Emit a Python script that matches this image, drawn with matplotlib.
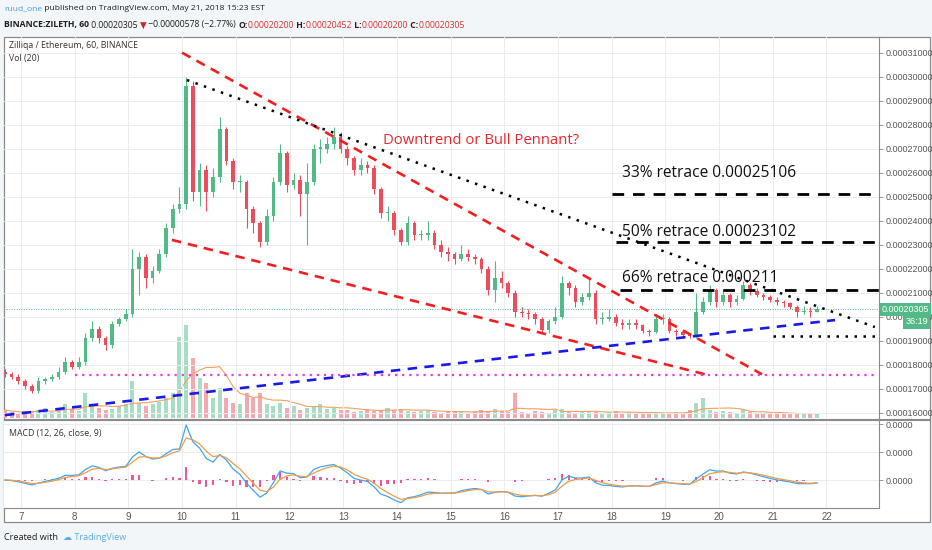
import numpy as np
import pandas as pd
import matplotlib
matplotlib.use("Agg")
from matplotlib import pyplot as plt
from matplotlib.patches import Rectangle
from matplotlib.lines import Line2D

plt.rcParams['font.family'] = ['Open Sans', 'DejaVu Sans']

# 3-hour candles, prices in units of 1e-5 ETH
start_day = 6.7
candle_step = 0.125
first_open = 17.7
closes = [17.6, 17.5, 17.3, 17.1, 16.9, 17.3, 17.4, 17.5, 17.7, 18.1,
          17.9, 18.1, 19.1, 19.5, 19.1, 18.8, 19.7, 19.9, 20.1, 22.0,
          22.5, 21.6, 21.9, 22.6, 23.7, 24.5, 24.7, 29.6, 25.2, 26.1,
          25.2, 25.8, 27.8, 26.5, 25.6, 25.6, 24.5, 23.9, 23.1, 24.2,
          25.6, 26.8, 25.5, 25.7, 25.1, 25.6, 27.0, 27.0, 27.2, 27.5,
          27.0, 26.6, 26.1, 26.3, 26.2, 25.3, 24.3, 24.3, 23.6, 23.1,
          23.9, 23.4, 23.4, 23.5, 23.0, 22.7, 22.6, 22.4, 22.6, 22.5,
          22.4, 22.0, 21.1, 21.6, 21.4, 21.0, 20.2, 20.15, 20.1, 19.9,
          19.45, 19.8, 20.0, 21.4, 21.2, 20.6, 20.8, 21.0, 19.9, 19.9,
          20.0, 19.75, 19.65, 19.75, 19.65, 19.4, 19.35, 19.9, 19.9, 19.4,
          19.35, 19.25, 19.2, 20.2, 20.6, 21.1, 20.6, 20.9, 20.6, 20.75,
          21.3, 21.05, 20.9, 20.8, 20.7, 20.6, 20.55, 20.4, 20.2, 20.25,
          20.2, 20.305]
highs = [17.8, 17.7, 17.6, 17.4, 17.2, 17.5, 17.5, 17.6, 17.9, 18.3,
         18.2, 18.3, 19.3, 19.8, 19.6, 19.2, 19.8, 20.0, 20.3, 22.8,
         22.7, 22.6, 22.1, 22.8, 23.9, 24.7, 25.4, 30.0, 29.8, 26.4,
         26.3, 26.2, 28.3, 27.9, 26.6, 25.9, 25.7, 24.6, 24.0, 24.5,
         25.8, 27.2, 26.9, 26.0, 25.9, 26.4, 27.2, 27.4, 27.5, 27.9,
         27.7, 27.1, 26.7, 26.6, 26.5, 26.3, 25.4, 24.6, 24.4, 23.7,
         24.2, 24.0, 23.6, 24.0, 23.6, 23.2, 22.9, 22.7, 23.0, 22.8,
         22.6, 22.5, 22.1, 22.3, 21.9, 21.5, 21.1, 20.4, 20.3, 20.2,
         20.0, 19.9, 20.4, 21.7, 21.5, 21.3, 21.0, 21.6, 21.1, 20.2,
         20.3, 20.1, 19.9, 19.9, 19.9, 19.7, 19.5, 20.1, 20.1, 20.0,
         19.5, 19.4, 19.3, 21.0, 20.8, 21.3, 21.2, 21.1, 21.0, 20.9,
         21.5, 21.4, 21.2, 21.0, 20.9, 20.8, 20.7, 20.6, 20.5, 20.45,
         20.4, 20.45]
lows = [17.5, 17.4, 17.2, 17.0, 16.8, 16.8, 17.2, 17.3, 17.4, 17.6,
        17.8, 17.8, 18.0, 19.0, 18.9, 18.6, 18.7, 19.6, 19.8, 20.0,
        20.9, 21.2, 21.4, 21.8, 22.5, 23.5, 24.3, 24.5, 24.8, 24.6,
        24.4, 25.0, 25.6, 26.3, 25.3, 25.2, 23.7, 23.5, 22.9, 23.0,
        24.0, 25.5, 25.2, 25.3, 24.2, 23.0, 25.5, 26.4, 26.8, 27.0,
        26.8, 26.3, 25.9, 25.9, 26.0, 25.1, 24.1, 24.0, 23.4, 23.0,
        23.0, 23.2, 23.2, 23.2, 22.8, 22.5, 22.3, 22.2, 22.3, 22.3,
        22.2, 21.8, 20.9, 20.6, 21.2, 20.8, 20.0, 20.0, 19.9, 19.7,
        19.3, 19.3, 19.7, 19.9, 20.9, 20.4, 20.5, 20.7, 19.7, 19.7,
        19.8, 19.6, 19.5, 19.5, 19.5, 19.3, 19.2, 19.3, 19.7, 19.3,
        19.2, 19.1, 19.1, 19.1, 20.1, 20.5, 20.4, 20.5, 20.4, 20.5,
        20.7, 20.9, 20.8, 20.7, 20.6, 20.5, 20.4, 20.3, 20.0, 20.1,
        20.0, 20.2]
volumes = [8, 6, 5, 6, 7, 8, 10, 6, 8, 14,
           9, 7, 25, 12, 10, 8, 9, 12, 14, 37,
           15, 12, 14, 16, 20, 25, 81, 93, 60, 40,
           35, 20, 30, 20, 15, 14, 25, 20, 25, 14,
           12, 15, 10, 12, 8, 10, 12, 14, 9, 10,
           8, 8, 6, 7, 9, 7, 8, 10, 8, 9,
           7, 6, 7, 8, 6, 5, 6, 7, 6, 5,
           7, 8, 6, 9, 7, 6, 25, 6, 5, 7,
           6, 5, 8, 9, 6, 5, 7, 6, 6, 5,
           6, 7, 5, 6, 5, 4, 5, 6, 5, 5,
           6, 5, 8, 15, 20, 8, 6, 7, 6, 5,
           9, 6, 5, 5, 4, 5, 4, 5, 4, 4,
           5, 4]
last_price = 20.305

day_ticks = list(range(7, 23))
price_ticks = list(range(16, 32))

# hand drawn lines (day of May, price 1e-5)
red_upper_days = [10.0, 20.8]
red_upper_prices = [31.0, 17.6]
red_lower_days = [9.81, 19.83]
red_lower_prices = [23.2, 17.55]
dotted_days = [10.09, 22.9]
dotted_prices = [29.86, 19.57]
blue_days = [6.7, 22.16]
blue_prices = [15.9, 19.86]
magenta_days = [8.0, 22.9]
magenta_price = 17.57
support_days = [21.0, 22.9]
support_price = 19.2
retrace_starts = [18.0, 18.08, 18.15]
retrace_levels = [25.106, 23.102, 21.1]
retrace_labels = ['33% retrace 0.00025106', '50% retrace 0.00023102', '66% retrace 0.000211']
retrace_label_prices = [26.0, 23.53, 21.61]

W, H = 932, 550
green, red = '#53b987', '#eb4d5c'
xmin, xmax = 6.683, 22.978

fig = plt.figure(figsize=(W / 100, H / 100), dpi=100, facecolor='#f3f6f8')


def fx(x):
    return x / W


def fy(y):
    return 1 - y / H


fig.add_artist(Rectangle((fx(4), fy(522)), 926 / W, 485 / H, transform=fig.transFigure,
                         fc='white', ec='#8a8a8a', lw=0.9, zorder=-1))

# ---- main pane
ax = fig.add_axes([fx(4), fy(418), 875 / W, 381 / H])
ax_vol = ax.twinx()
ax.set_zorder(ax_vol.get_zorder() + 1)
ax.patch.set_visible(False)

n = len(closes)
days = start_day + candle_step * np.arange(n)
c = np.array(closes)
o = np.array([first_open] + closes[:-1])
up = c >= o
cols = np.where(up, green, red)

vol_cols = np.where(up, '#a8dcc3', '#f4a9b0')
ax_vol.bar(days, volumes, width=candle_step * 0.6, color=vol_cols, zorder=1)
vol_ma = pd.Series(volumes).rolling(7, min_periods=1).mean()
ax_vol.plot(days, vol_ma, color='#f2a15e', lw=0.8, zorder=2)
ax_vol.set_ylim(0, max(volumes) * 381 / 93)
ax_vol.set_yticks([])
for s in ax_vol.spines.values():
    s.set_visible(False)

ax.vlines(days, lows, highs, color=cols, lw=0.8, zorder=3)
ax.bar(days, np.maximum(np.abs(c - o), 0.05), bottom=np.minimum(o, c),
       width=candle_step * 0.55, color=cols, zorder=4)

ax.set_xlim(xmin, xmax)
ax.set_ylim(15.779, 31.654)
ax.set_xticks(day_ticks)
ax.set_xticklabels([])
ax.set_yticks(price_ticks)
ax.set_yticklabels(['%.8f' % (p * 1e-5) for p in price_ticks])
ax.yaxis.tick_right()
ax.tick_params(axis='y', length=3, width=0.6, color='#888', pad=2, labelsize=6.5,
               labelcolor='#555')
ax.tick_params(axis='x', length=0)
for lab in ax.get_yticklabels():
    lab.set_fontfamily('Liberation Sans')
ax.grid(True, color='#e9edf1', lw=0.7, zorder=0)
for s in ax.spines.values():
    s.set_visible(False)

ax.axhline(last_price, color=green, lw=0.7, ls=(0, (1, 1.5)), zorder=5)

ax.plot(red_upper_days, red_upper_prices, color='#f02020', lw=1.9, ls=(0, (3.6, 2.6)), zorder=6)
ax.plot(red_lower_days, red_lower_prices, color='#f02020', lw=1.9, ls=(0, (3.6, 2.6)), zorder=6)
ax.plot(dotted_days, dotted_prices, color='black', lw=1.8, ls=(0, (1, 2.6)), zorder=6)
ax.plot(blue_days, blue_prices, color='#1a1ae6', lw=1.9, ls=(0, (3.6, 2.8)), zorder=6)
ax.plot(magenta_days, [magenta_price] * 2, color='#e83ce8', lw=1.6, ls=(0, (1, 2.2)), zorder=6)
ax.plot(support_days, [support_price] * 2, color='black', lw=1.8, ls=(0, (1, 2.6)), zorder=6)
for start, lvl, lab, lp in zip(retrace_starts, retrace_levels, retrace_labels, retrace_label_prices):
    ax.plot([start, xmax], [lvl, lvl], color='black', lw=2, ls=(0, (4.2, 3.2)), zorder=6,
            solid_capstyle='butt')
    ax.text(18.19, lp, lab, fontsize=11.2, color='#111', va='center', ha='left', zorder=7)
ax.text(13.74, 27.36, 'Downtrend or Bull Pennant?', fontsize=10.7, color='#e8292d',
        va='center', ha='left', zorder=7)

ax.text(0.006, 0.978, 'Zilliqa / Ethereum, 60, BINANCE', transform=ax.transAxes, fontsize=6.3,
        color='#333', va='center')
ax.text(0.006, 0.944, 'Vol (20)', transform=ax.transAxes, fontsize=6.3, color='#333', va='center')

ax.text(1.003, last_price, '0.00020305', transform=ax.get_yaxis_transform(), fontsize=6.5,
        color='white', va='center', ha='left', family='Liberation Sans', clip_on=False, zorder=10,
        bbox=dict(boxstyle='square,pad=0.25', fc=green, ec='none'))
ax.text(1.056, last_price - 0.52, '36:19', transform=ax.get_yaxis_transform(), fontsize=6.5,
        color='white', va='center', ha='right', family='Liberation Sans', clip_on=False, zorder=10,
        bbox=dict(boxstyle='square,pad=0.25', fc=green, ec='none'))

# ---- MACD pane
ax_m = fig.add_axes([fx(4), fy(508), 875 / W, 88 / H])
cs = pd.Series(closes)
macd = cs.ewm(span=4, adjust=False).mean() - cs.ewm(span=8.67, adjust=False).mean()
signal = macd.ewm(span=3, adjust=False).mean()
hist = macd - signal
ax_m.bar(days, hist, width=candle_step * 0.35, color='#e85a9c', zorder=2)
ax_m.plot(days, macd, color='#3ea6ee', lw=0.9, zorder=3)
ax_m.plot(days, signal, color='#f39a48', lw=0.9, zorder=3)
R = macd.max() / 0.625
ax_m.set_ylim(-0.318 * R, 0.682 * R)
ax_m.set_xlim(xmin, xmax)
ax_m.set_yticks([0, 0.318 * R, 0.636 * R])
ax_m.set_yticklabels(['0.0000'] * 3)
ax_m.yaxis.tick_right()
ax_m.tick_params(axis='y', length=3, width=0.6, color='#888', pad=2, labelsize=6.5,
                 labelcolor='#555')
ax_m.set_xticks(day_ticks)
ax_m.set_xticklabels([str(d) for d in day_ticks])
ax_m.tick_params(axis='x', length=0, pad=3, labelsize=7, labelcolor='#555')
for lab in ax_m.get_yticklabels() + ax_m.get_xticklabels():
    lab.set_fontfamily('Liberation Sans')
ax_m.grid(True, color='#e9edf1', lw=0.7, zorder=0)
for s in ax_m.spines.values():
    s.set_visible(False)
ax_m.text(0.006, 0.85, 'MACD (12, 26, close, 9)', transform=ax_m.transAxes, fontsize=6.3,
          color='#333', va='center')

# pane borders
for xs, ys in [([879, 879], [37, 508]), ([4, 930], [418.5, 418.5]), ([4, 930], [420, 420]),
               ([4, 879], [508, 508])]:
    fig.add_artist(Line2D([fx(v) for v in xs], [fy(v) for v in ys], transform=fig.transFigure,
                          color='#8a8a8a', lw=0.8))

# header and footer text
renderer = fig.canvas.get_renderer()


def text_run(x, y, pieces, size):
    for s, color, weight in pieces:
        t = fig.text(fx(x), fy(y), s, color=color, fontsize=size, fontweight=weight,
                     va='center', ha='left')
        x += t.get_window_extent(renderer=renderer).width


dark = '#1e1e1e'
text_run(4, 9, [('ruud_one', '#3f9fdc', 'normal'),
                (' published on TradingView.com, May 21, 2018 15:23 EST', dark, 'normal')], 6.1)
text_run(4, 25, [('BINANCE:ZILETH, 60', dark, 'bold'), (' 0.00020305 ', dark, 'normal'),
                 ('▼', '#c62828', 'normal'), (' \u22120.00000578 (\u22122.77%) ', dark, 'normal'),
                 ('O:', dark, 'bold'), ('0.00020200', '#d32f2f', 'normal'),
                 (' H:', dark, 'bold'), ('0.00020452', '#d32f2f', 'normal'),
                 (' L:', dark, 'bold'), ('0.00020200', '#d32f2f', 'normal'),
                 (' C:', dark, 'bold'), ('0.00020305', '#d32f2f', 'normal')], 6.2)
text_run(4, 537, [('Created with  ', dark, 'normal'), ('\u2601', '#5aaee3', 'normal'),
                  (' TradingView', '#5aaee3', 'normal')], 6.6)

fig.savefig('out.png', dpi=100, facecolor=fig.get_facecolor())
